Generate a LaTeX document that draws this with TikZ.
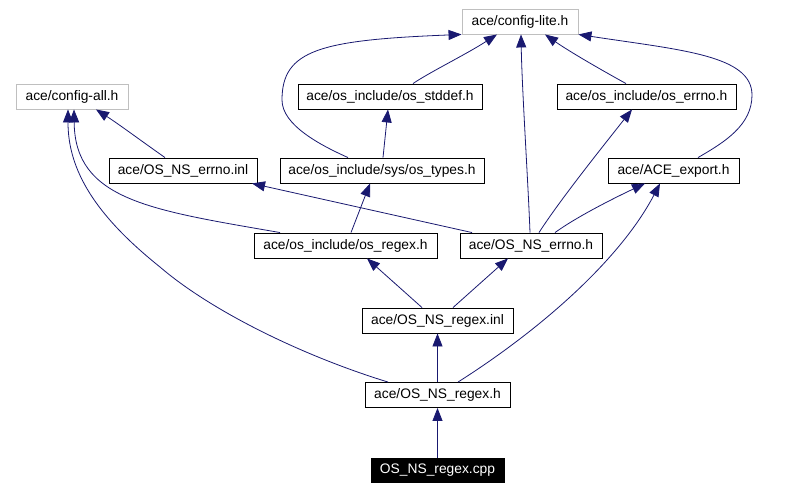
\documentclass[tikz,border=0pt]{standalone}
\usepackage{fontspec}
\setmainfont{Liberation Sans}
\usetikzlibrary{arrows.meta}
\definecolor{edgecol}{RGB}{25,25,112}
\definecolor{graybd}{RGB}{191,191,191}
\tikzset{
  box/.style={draw=black, line width=0.9pt, fill=white, minimum height=25pt, inner sep=0pt, font=\fontsize{13.8}{16}\selectfont, anchor=center},
  graybox/.style={box, draw=graybd},
  blackbox/.style={box, fill=black, text=white, draw=black},
  edge/.style={draw=edgecol, line width=0.8pt, -{Triangle[length=13pt,width=10pt]}},
}
\begin{document}
\begin{tikzpicture}[x=1pt,y=-1pt]
\useasboundingbox (0,0) rectangle (794,490);
% nodes
\node[graybox, minimum width=116pt] (lite) at (520,21.5) {ace/config-lite.h};
\node[graybox, minimum width=112pt] (all) at (72,96.5) {ace/config-all.h};
\node[box, minimum width=184pt] (stddef) at (390,96.5) {ace/os\_include/os\_stddef.h};
\node[box, minimum width=179pt] (oserrno) at (646.5,96.5) {ace/os\_include/os\_errno.h};
\node[box, minimum width=148pt] (errnoinl) at (183,170.5) {ace/OS\_NS\_errno.inl};
\node[box, minimum width=204pt] (types) at (382,170.5) {ace/os\_include/sys/os\_types.h};
\node[box, minimum width=131pt] (export) at (673.5,170.5) {ace/ACE\_export.h};
\node[box, minimum width=183pt] (osregex) at (345.5,245.5) {ace/os\_include/os\_regex.h};
\node[box, minimum width=142pt] (nserrno) at (531,245.5) {ace/OS\_NS\_errno.h};
\node[box, minimum width=151pt] (regexinl) at (437.5,320.5) {ace/OS\_NS\_regex.inl};
\node[box, minimum width=145pt] (regexh) at (437.5,395) {ace/OS\_NS\_regex.h};
\node[blackbox, minimum width=133pt, minimum height=24pt] (cpp) at (437.5,470) {OS\_NS\_regex.cpp};
% edges
\draw[edge] (cpp.north) -- (regexh.south);
\draw[edge] (regexh.north) -- (regexinl.south);
\draw[edge] ([xshift=-49.5pt]regexh.north) .. controls (300,355) and (210,310) .. (160,267)
   .. controls (95,215) and (68,170) .. ([xshift=-4pt]all.south);
\draw[edge] ([xshift=20.5pt]regexh.north) .. controls (540,330) and (620,260) .. ([xshift=-13.5pt]export.south);
\draw[edge] ([xshift=-15.5pt]regexinl.north) -- ([xshift=21.5pt]osregex.south);
\draw[edge] ([xshift=15.5pt]regexinl.north) -- ([xshift=-23pt]nserrno.south);
\draw[edge] ([xshift=-65.5pt]osregex.north) .. controls (150,210) and (75,200) .. ([xshift=2pt]all.south);
\draw[edge] ([xshift=5.5pt]osregex.north) -- ([xshift=-12pt]types.south);
\draw[edge] ([xshift=-59pt]nserrno.north) -- ([xshift=69pt]errnoinl.south);
\draw[edge] ([xshift=-1pt]nserrno.north) .. controls (528,180) and (522,90) .. ([xshift=1pt]lite.south);
\draw[edge] ([xshift=8pt]nserrno.north) .. controls (560,200) and (600,150) .. ([xshift=-14.5pt]oserrno.south);
\draw[edge] ([xshift=24pt]nserrno.north) .. controls (575,218) and (610,200) .. ([xshift=-28.5pt]export.south);
\draw[edge] ([xshift=-18pt]errnoinl.north) .. controls (140,140) and (120,125) .. ([xshift=24pt]all.south);
\draw[edge] ([xshift=1pt]types.north) -- ([xshift=-2pt]stddef.south);
\draw[edge] ([xshift=-34pt]types.north) .. controls (320,145) and (282,125) .. (282,100)
   .. controls (282,50) and (320,40) .. (lite.south west);
\draw[edge] ([xshift=23pt]stddef.north) .. controls (430,72) and (465,55) .. ([xshift=-23pt]lite.south);
\draw[edge] ([xshift=-20.5pt]oserrno.north) .. controls (605,72) and (570,52) .. ([xshift=25pt]lite.south);
\draw[edge] ([xshift=24.5pt]export.north) .. controls (725,142) and (752,125) .. (752,95)
   .. controls (752,55) and (680,50) .. (lite.south east);
\end{tikzpicture}
\end{document}
